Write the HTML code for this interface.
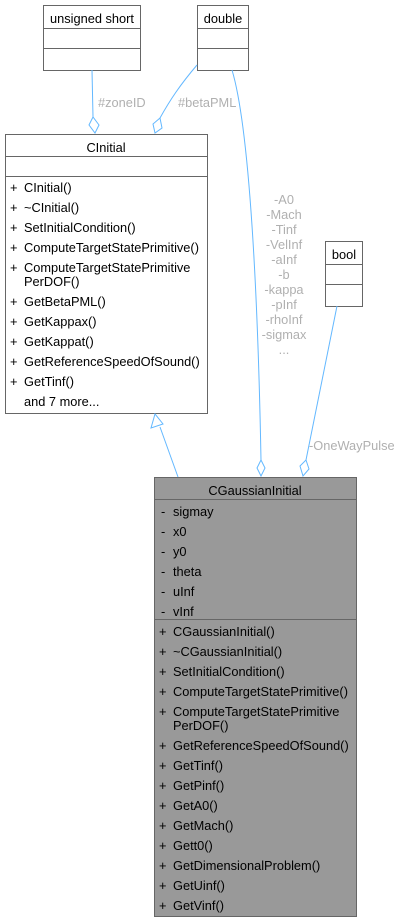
<!DOCTYPE html>
<html><head><meta charset="utf-8"><style>
html,body{margin:0;padding:0;background:#fff;}
svg{display:block;}
text{font-family:"Liberation Sans",sans-serif;font-size:12.8px;fill:#000;}
.l{fill:#b0b0b0;}
</style></head><body>
<svg width="401" height="922" viewBox="0 0 401 922" xmlns="http://www.w3.org/2000/svg">
<g fill="#fff" stroke="#666" stroke-width="1">
<rect x="43.5" y="5.5" width="97" height="65"/>
<line x1="43.5" y1="28.5" x2="140.5" y2="28.5"/><line x1="43.5" y1="48.5" x2="140.5" y2="48.5"/>
<rect x="197.5" y="5.5" width="51" height="65"/>
<line x1="197.5" y1="28.5" x2="248.5" y2="28.5"/><line x1="197.5" y1="48.5" x2="248.5" y2="48.5"/>
<rect x="325.5" y="241.5" width="37" height="65"/>
<line x1="325.5" y1="264.5" x2="362.5" y2="264.5"/><line x1="325.5" y1="284.5" x2="362.5" y2="284.5"/>
<rect x="5.5" y="134.5" width="202" height="279"/>
<line x1="5.5" y1="156.5" x2="207.5" y2="156.5"/><line x1="5.5" y1="176.5" x2="207.5" y2="176.5"/>
<rect x="154.5" y="477.5" width="202" height="439" fill="#999"/>
<line x1="154.5" y1="499.5" x2="356.5" y2="499.5"/><line x1="154.5" y1="619.5" x2="356.5" y2="619.5"/>
</g>
<g fill="none" stroke="#63b8ff" stroke-width="1">
<path d="M92,70 L93,117"/>
<path d="M93,117 L89,125 L95,133 L99,125 Z"/>
<path d="M197,65 C180,85 170,100 160,118"/>
<path d="M160,118 L153,124 L155,133 L162,128 Z"/>
<path d="M232,70 C250,130 258,300 261,460"/>
<path d="M261,460 L257,468 L261,476 L265,468 Z"/>
<path d="M337,306 L306,460"/>
<path d="M306,460 L300,466 L303,476 L309,469 Z"/>
<path d="M178,477 L160,427"/>
<path d="M155,414 L151,428 L163,424 Z"/>
</g>
<text class="l" x="98" y="107">#zoneID</text>
<text class="l" x="178" y="107">#betaPML</text>
<g text-anchor="middle">
<text class="l" x="284" y="204">-A0</text>
<text class="l" x="284" y="219">-Mach</text>
<text class="l" x="284" y="234">-Tinf</text>
<text class="l" x="284" y="249">-VelInf</text>
<text class="l" x="284" y="264">-aInf</text>
<text class="l" x="284" y="279">-b</text>
<text class="l" x="284" y="294">-kappa</text>
<text class="l" x="284" y="309">-pInf</text>
<text class="l" x="284" y="324">-rhoInf</text>
<text class="l" x="284" y="339">-sigmax</text>
<text class="l" x="284" y="354">...</text>
</g>
<text class="l" x="309" y="450">-OneWayPulse</text>
<text x="92" y="23" text-anchor="middle">unsigned short</text>
<text x="223" y="23" text-anchor="middle">double</text>
<text x="344" y="259" text-anchor="middle">bool</text>
<text x="106" y="152" text-anchor="middle">CInitial</text>
<g>
<text x="10" y="192">+</text><text x="24" y="192">CInitial()</text>
<text x="10" y="212">+</text><text x="24" y="212">~CInitial()</text>
<text x="10" y="232">+</text><text x="24" y="232">SetInitialCondition()</text>
<text x="10" y="252">+</text><text x="24" y="252">ComputeTargetStatePrimitive()</text>
<text x="10" y="272">+</text><text x="24" y="272">ComputeTargetStatePrimitive</text>
<text x="24" y="286">PerDOF()</text>
<text x="10" y="306">+</text><text x="24" y="306">GetBetaPML()</text>
<text x="10" y="326">+</text><text x="24" y="326">GetKappax()</text>
<text x="10" y="346">+</text><text x="24" y="346">GetKappat()</text>
<text x="10" y="366">+</text><text x="24" y="366">GetReferenceSpeedOfSound()</text>
<text x="10" y="386">+</text><text x="24" y="386">GetTinf()</text>
<text x="24" y="406">and 7 more...</text>
</g>
<text x="255" y="495" text-anchor="middle">CGaussianInitial</text>
<g>
<text x="161" y="516">-</text><text x="173" y="516">sigmay</text>
<text x="161" y="536">-</text><text x="173" y="536">x0</text>
<text x="161" y="556">-</text><text x="173" y="556">y0</text>
<text x="161" y="576">-</text><text x="173" y="576">theta</text>
<text x="161" y="596">-</text><text x="173" y="596">uInf</text>
<text x="161" y="616">-</text><text x="173" y="616">vInf</text>
<text x="159" y="636">+</text><text x="173" y="636">CGaussianInitial()</text>
<text x="159" y="656">+</text><text x="173" y="656">~CGaussianInitial()</text>
<text x="159" y="676">+</text><text x="173" y="676">SetInitialCondition()</text>
<text x="159" y="696">+</text><text x="173" y="696">ComputeTargetStatePrimitive()</text>
<text x="159" y="716">+</text><text x="173" y="716">ComputeTargetStatePrimitive</text>
<text x="173" y="730">PerDOF()</text>
<text x="159" y="750">+</text><text x="173" y="750">GetReferenceSpeedOfSound()</text>
<text x="159" y="770">+</text><text x="173" y="770">GetTinf()</text>
<text x="159" y="790">+</text><text x="173" y="790">GetPinf()</text>
<text x="159" y="810">+</text><text x="173" y="810">GetA0()</text>
<text x="159" y="830">+</text><text x="173" y="830">GetMach()</text>
<text x="159" y="850">+</text><text x="173" y="850">Gett0()</text>
<text x="159" y="870">+</text><text x="173" y="870">GetDimensionalProblem()</text>
<text x="159" y="890">+</text><text x="173" y="890">GetUinf()</text>
<text x="159" y="910">+</text><text x="173" y="910">GetVinf()</text>
</g>
</svg>
</body></html>
